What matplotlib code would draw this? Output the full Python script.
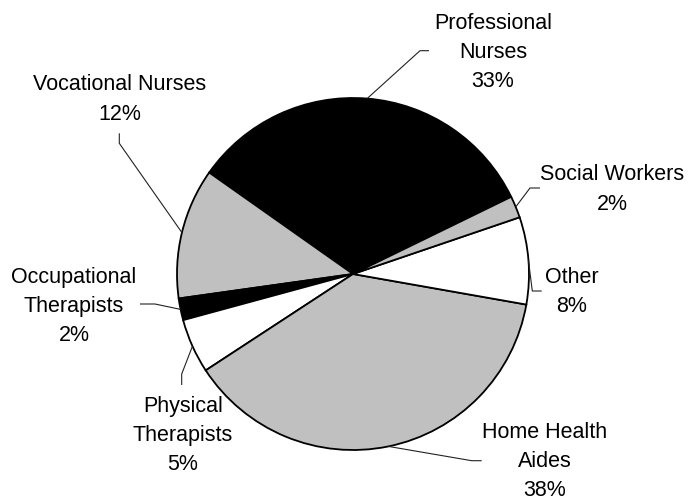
import numpy as np
import matplotlib
matplotlib.use("Agg")
import matplotlib.pyplot as plt

plt.rcParams['font.family'] = ['Liberation Sans', 'DejaVu Sans']

# Data (counter-clockwise order starting at the Professional Nurses slice)
categories = ["Professional\nNurses", "Vocational Nurses", "Occupational\nTherapists",
              "Physical\nTherapists", "Home Health\nAides", "Other", "Social Workers"]
values = [33, 12, 2, 5, 38, 8, 2]
colors = ["#000000", "#c0c0c0", "#000000", "#ffffff", "#c0c0c0", "#ffffff", "#c0c0c0"]

# Layout (pixel coordinates, y measured from top)
W, H = 689, 500
center_px = (353, 274)
radius = 176
start_angle = 26
# text centre, leader elbow, leader end
label_pos = [(493, 52.5), (120, 99.5), (74, 306.5), (183, 435.5), (545, 461.5), (572, 292), (612, 189.5)]
elbows = [(420, 50.7), (119.3, 143.3), (155, 304), (181.7, 374), (471.7, 460.7), (532.3, 291), (530, 188)]
ends = [(429, 50.7), (119.3, 133.3), (140, 304), (181.7, 385), (481.7, 460.7), (541.7, 291), (540, 188)]

fig = plt.figure(figsize=(W / 100, H / 100), dpi=100)
ax = fig.add_axes([0, 0, 1, 1])

cx, cy = center_px[0], H - center_px[1]
wedges, _ = ax.pie(values, colors=colors, startangle=start_angle, counterclock=True,
                   center=(cx, cy), radius=radius,
                   wedgeprops=dict(edgecolor="black", linewidth=1.3))
ax.set_xlim(0, W)
ax.set_ylim(0, H)
ax.set_aspect("equal")
ax.axis("off")

total = sum(values)
for i, (cat, v) in enumerate(zip(categories, values)):
    w = wedges[i]
    mid = np.deg2rad((w.theta1 + w.theta2) / 2)
    sx, sy = cx + radius * np.cos(mid), cy + radius * np.sin(mid)
    ex, ey = elbows[i][0], H - elbows[i][1]
    tx, ty = ends[i][0], H - ends[i][1]
    ax.plot([sx, ex, tx], [sy, ey, ty], color="#222222", lw=0.8, solid_capstyle="butt")
    pct = round(v / total * 100)
    lx, ly = label_pos[i][0], H - label_pos[i][1]
    ax.text(lx, ly, f"{cat}\n{pct}%", ha="center", va="center", fontsize=15.5,
            linespacing=1.52, color="black")

fig.savefig("out.png", dpi=100)
